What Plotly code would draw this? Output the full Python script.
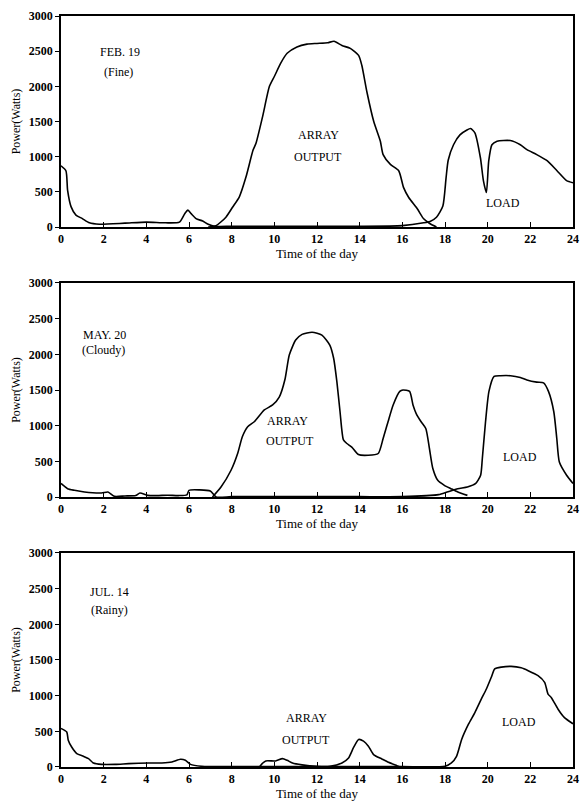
import plotly.graph_objects as go

# ---------------- data (hours, watts) ----------------
feb_load_t = [0, 0.23, 0.31, 0.47, 0.7, 1.0, 1.33, 1.8, 3.0, 4.0, 4.9, 5.55, 5.8, 5.95, 6.1, 6.33, 6.64, 6.9, 7.2,
              8, 10, 12, 14, 16, 17.0, 17.3, 17.6, 17.9, 18.05, 18.15, 18.4, 18.7, 19.03, 19.2, 19.4, 19.66, 19.8,
              19.94, 20.05, 20.2, 20.44, 21.06, 21.53, 21.84, 22.3, 22.8, 23.25, 23.7, 24]
feb_load_w = [870, 800, 520, 290, 170, 120, 60, 40, 55, 70, 60, 70, 190, 240, 190, 120, 85, 40, 10,
              10, 10, 10, 10, 20, 60, 80, 140, 300, 700, 950, 1170, 1310, 1380, 1400, 1340, 985, 660,
              490, 940, 1170, 1220, 1230, 1170, 1100, 1030, 940, 800, 660, 630]
feb_array_t = [6.9, 7.27, 7.73, 8.05, 8.36, 8.67, 9.0, 9.14, 9.45, 9.77, 10.0, 10.3, 10.6, 11.06, 11.53, 12.0,
               12.5, 12.8, 13.17, 13.56, 13.95, 14.1, 14.34, 14.66, 14.97, 15.1, 15.44, 15.83, 16.06, 16.3,
               16.7, 17.0, 17.3, 17.6]
feb_array_w = [0, 20, 140, 285, 430, 710, 1090, 1190, 1570, 2000, 2140, 2330, 2470, 2560, 2600, 2610,
               2620, 2640, 2580, 2540, 2440, 2300, 1920, 1500, 1220, 1030, 890, 800, 560, 420,
               260, 117, 47, 0]

may_load_t = [0, 0.31, 0.63, 1.1, 1.9, 2.2, 2.5, 3.0, 3.5, 3.7, 4.06, 4.5, 5.0, 5.5, 5.9, 6.0, 6.5, 7.0, 7.27,
              8, 10, 12, 14, 16, 17.7, 18.1, 18.6, 19.05, 19.44, 19.67, 19.75, 19.9, 20.06, 20.3, 20.6,
              21.07, 21.53, 21.84, 22.3, 22.62, 22.85, 23.1, 23.24, 23.36, 23.7, 24]
may_load_w = [190, 117, 94, 70, 56, 70, 10, 15, 20, 56, 23, 20, 25, 20, 30, 94, 100, 85, 0,
              5, 5, 5, 5, 5, 33, 70, 117, 140, 190, 305, 540, 1055, 1480, 1690, 1700,
              1700, 1675, 1640, 1610, 1600, 1480, 1195, 820, 490, 305, 190]
may_array_t = [7.1, 7.5, 7.97, 8.28, 8.5, 8.75, 9.06, 9.53, 9.92, 10.23, 10.5, 10.7, 11.0, 11.3, 11.77, 12.23,
               12.6, 12.78, 12.93, 13.08, 13.24, 13.4, 13.63, 13.94, 14.4, 14.87, 15.1, 15.33, 15.57, 15.88,
               16.03, 16.34, 16.5, 16.65, 16.88, 17.1, 17.27, 17.43, 17.66, 17.97, 18.28, 18.6, 19.05]
may_array_w = [0, 140, 375, 610, 845, 985, 1055, 1220, 1290, 1400, 1650, 1990, 2200, 2280, 2310, 2270,
               2130, 1945, 1620, 1195, 800, 750, 700, 595, 585, 610, 820, 1055, 1290, 1480,
               1500, 1480, 1290, 1170, 1055, 960, 680, 400, 234, 164, 117, 70, 23]

jul_load_t = [0, 0.27, 0.34, 0.5, 0.74, 1.05, 1.29, 1.52, 1.9, 2.54, 3.17, 4.1, 4.73, 5.2, 5.6, 5.83, 6.07, 6.6,
              8, 10, 12, 14, 16, 18.0, 18.3, 18.54, 18.78, 19.1, 19.4, 19.7, 19.94, 20.17, 20.33, 20.64,
              21.1, 21.57, 21.9, 22.36, 22.67, 22.83, 22.98, 23.3, 23.6, 23.93, 24]
jul_load_w = [540, 490, 375, 280, 188, 150, 117, 56, 37, 37, 47, 56, 56, 70, 108, 94, 37, 10,
              5, 5, 5, 5, 5, 10, 57, 150, 386, 600, 763, 951, 1093, 1258, 1375, 1400,
              1410, 1390, 1350, 1280, 1187, 1022, 975, 810, 692, 620, 607]
jul_array_t = [9.3, 9.43, 9.6, 10.06, 10.38, 10.6, 10.85, 11.3, 12.0, 12.6, 13.17, 13.48, 13.71, 13.95,
               14.18, 14.41, 14.65, 15.04, 15.35, 15.74, 15.9]
jul_array_w = [0, 47, 85, 85, 117, 94, 56, 30, 10, 10, 57, 127, 270, 386,
               363, 292, 174, 113, 66, 19, 0]

x_ticks = list(range(0, 25, 2))
y_ticks = list(range(0, 3001, 500))

panels = [
    dict(load=(feb_load_t, feb_load_w), arr=(feb_array_t, feb_array_w), dom=[0.719, 1.0],
         notes=[("FEB. 19", 2.75, 2490), ("(Fine)", 2.7, 2200), ("ARRAY", 12.05, 1310),
                ("OUTPUT", 12.05, 995), ("LOAD", 20.7, 340)]),
    dict(load=(may_load_t, may_load_w), arr=(may_array_t, may_array_w), dom=[0.3595, 0.6445],
         notes=[("MAY. 20", 2.05, 2270), ("(Cloudy)", 2.0, 2060), ("ARRAY", 10.6, 1065),
                ("OUTPUT", 10.75, 785), ("LOAD", 21.5, 560)]),
    dict(load=(jul_load_t, jul_load_w), arr=(jul_array_t, jul_array_w), dom=[0.0, 0.285],
         notes=[("JUL. 14", 2.25, 2450), ("(Rainy)", 2.25, 2200), ("ARRAY", 11.5, 690),
                ("OUTPUT", 11.5, 380), ("LOAD", 21.45, 630)]),
]

FONT = "Liberation Serif"
fig = go.Figure()
annotations = []
for i, p in enumerate(panels, start=1):
    xa = "x" if i == 1 else f"x{i}"
    ya = "y" if i == 1 else f"y{i}"
    for (t, w) in (p["load"], p["arr"]):
        fig.add_trace(go.Scatter(x=t, y=w, mode="lines", xaxis=xa, yaxis=ya,
                                 line=dict(color="black", width=1.6, shape="spline", smoothing=0.6),
                                 showlegend=False, hoverinfo="skip", cliponaxis=True))
    for (txt, tx, ty) in p["notes"]:
        annotations.append(dict(text=txt, x=tx, y=ty, xref=xa, yref=ya, showarrow=False,
                                font=dict(family=FONT, size=12, color="black")))
    ax_common = dict(showgrid=False, zeroline=False, showline=True, linecolor="black",
                     linewidth=1.5, mirror=True, ticks="outside", tickcolor="black",
                     automargin=False, ticklabeloverflow="allow",
                     tickfont=dict(family=FONT, size=12, color="black", weight="bold"))
    fig.layout[f"xaxis{'' if i == 1 else i}"] = dict(
        ax_common, domain=[0, 1], anchor=ya, range=[0, 24], tickvals=x_ticks,
        ticks="inside", ticklen=5,
        title=dict(text="Time of the day", font=dict(family=FONT, size=13, color="black"), standoff=3))
    fig.layout[f"yaxis{'' if i == 1 else i}"] = dict(
        ax_common, domain=p["dom"], anchor=xa, range=[0, 3000], tickvals=y_ticks, ticklen=4,
        title=dict(text="Power(Watts)", font=dict(family=FONT, size=12, color="black"), standoff=6))

fig.update_layout(width=583, height=807, margin=dict(l=61, r=10, t=16, b=40),
                  plot_bgcolor="white", paper_bgcolor="white", annotations=annotations)
fig.write_html("out.html", config={"displayModeBar": False},
               post_script="document.body.style.margin='0';document.body.style.overflow='hidden';")
